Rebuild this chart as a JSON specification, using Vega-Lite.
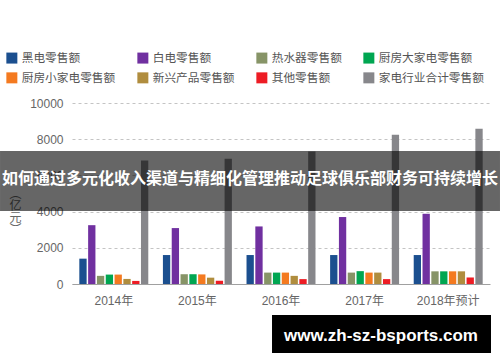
{
  "$schema": "https://vega.github.io/schema/vega-lite/v6.json",
  "width": 418,
  "height": 181,
  "autosize": {"type": "none"},
  "padding": {"left": 72, "top": 103, "right": 10, "bottom": 78},
  "background": "white",
  "config": {"view": {"stroke": null}, "font": "Noto Sans CJK SC"},
  "datasets": {
    "bars": [
      {"year": "2014年", "series": "黑电零售额", "value": 1400},
      {"year": "2014年", "series": "白电零售额", "value": 3250},
      {"year": "2014年", "series": "热水器零售额", "value": 450},
      {"year": "2014年", "series": "厨房大家电零售额", "value": 520},
      {"year": "2014年", "series": "厨房小家电零售额", "value": 520},
      {"year": "2014年", "series": "新兴产品零售额", "value": 280},
      {"year": "2014年", "series": "其他零售额", "value": 170},
      {"year": "2014年", "series": "家电行业合计零售额", "value": 6820},
      {"year": "2015年", "series": "黑电零售额", "value": 1600},
      {"year": "2015年", "series": "白电零售额", "value": 3090},
      {"year": "2015年", "series": "热水器零售额", "value": 540},
      {"year": "2015年", "series": "厨房大家电零售额", "value": 540},
      {"year": "2015年", "series": "厨房小家电零售额", "value": 530},
      {"year": "2015年", "series": "新兴产品零售额", "value": 350},
      {"year": "2015年", "series": "其他零售额", "value": 180},
      {"year": "2015年", "series": "家电行业合计零售额", "value": 6920},
      {"year": "2016年", "series": "黑电零售额", "value": 1600},
      {"year": "2016年", "series": "白电零售额", "value": 3180},
      {"year": "2016年", "series": "热水器零售额", "value": 630},
      {"year": "2016年", "series": "厨房大家电零售额", "value": 630},
      {"year": "2016年", "series": "厨房小家电零售额", "value": 630},
      {"year": "2016年", "series": "新兴产品零售额", "value": 450},
      {"year": "2016年", "series": "其他零售额", "value": 270},
      {"year": "2016年", "series": "家电行业合计零售额", "value": 7320},
      {"year": "2017年", "series": "黑电零售额", "value": 1600},
      {"year": "2017年", "series": "白电零售额", "value": 3700},
      {"year": "2017年", "series": "热水器零售额", "value": 630},
      {"year": "2017年", "series": "厨房大家电零售额", "value": 710},
      {"year": "2017年", "series": "厨房小家电零售额", "value": 630},
      {"year": "2017年", "series": "新兴产品零售额", "value": 630},
      {"year": "2017年", "series": "其他零售额", "value": 270},
      {"year": "2017年", "series": "家电行业合计零售额", "value": 8250},
      {"year": "2018年预计", "series": "黑电零售额", "value": 1600},
      {"year": "2018年预计", "series": "白电零售额", "value": 3880},
      {"year": "2018年预计", "series": "热水器零售额", "value": 700},
      {"year": "2018年预计", "series": "厨房大家电零售额", "value": 700},
      {"year": "2018年预计", "series": "厨房小家电零售额", "value": 700},
      {"year": "2018年预计", "series": "新兴产品零售额", "value": 700},
      {"year": "2018年预计", "series": "其他零售额", "value": 360},
      {"year": "2018年预计", "series": "家电行业合计零售额", "value": 8580}
    ],
    "band": [
      {"x0": -0.1722, "x1": 1.0239, "y0": 4033, "y1": 7348, "tx": 0.4258, "ty": 5801, "label": "如何通过多元化收入渠道与精细化管理推动足球俱乐部财务可持续增长"}
    ],
    "wm": [
      {"x0": 0.4785, "x1": 1.0024, "y0": -3812, "y1": -1713, "tx": 0.7392, "ty": -2873, "label": "www.zh-sz-bsports.com"}
    ]
  },
  "layer": [
    {
      "data": {"name": "bars"},
      "mark": {"type": "bar"},
      "encoding": {
        "x": {
          "field": "year", "type": "nominal", "sort": null,
          "scale": {"paddingInner": 0.175, "paddingOuter": 0.0875},
          "axis": {"title": null, "labelAngle": 0, "labelColor": "#666", "labelFontSize": 12, "labelPadding": 11, "ticks": false, "domainColor": "#a0a0a0", "domainWidth": 1, "grid": false, "labelFont": "Liberation Sans, Noto Sans CJK SC"}
        },
        "xOffset": {
          "field": "series", "type": "nominal",
          "sort": ["黑电零售额", "白电零售额", "热水器零售额", "厨房大家电零售额", "厨房小家电零售额", "新兴产品零售额", "其他零售额", "家电行业合计零售额"],
          "scale": {"paddingInner": 0.17, "paddingOuter": 0}
        },
        "y": {
          "field": "value", "type": "quantitative",
          "scale": {"domain": [0, 10000], "nice": false},
          "axis": {
            "title": ["︵", "亿", "元", "︶"], "titleAngle": 0, "titleX": -57, "titleY": 90,
            "titleAlign": "center", "titleBaseline": "middle", "titleFontWeight": "normal",
            "titleColor": "#666", "titleFontSize": 12, "titleLineHeight": 12,
            "values": [0, 2000, 4000, 6000, 8000, 10000], "format": "d",
            "domain": false, "ticks": false, "labelColor": "#666", "labelFontSize": 12, "labelPadding": 9,
            "labelFont": "Liberation Sans",
            "gridDash": [3, 3], "gridColor": "#c4c4c4", "gridWidth": 1
          }
        },
        "color": {
          "field": "series", "type": "nominal",
          "scale": {
            "domain": ["黑电零售额", "白电零售额", "热水器零售额", "厨房大家电零售额", "厨房小家电零售额", "新兴产品零售额", "其他零售额", "家电行业合计零售额"],
            "range": ["#1b4f8f", "#7030a0", "#879467", "#00a651", "#f47a20", "#b08d3e", "#ed1c24", "#87878b"]
          },
          "legend": {
            "title": null, "orient": "none", "legendX": -66, "legendY": -51,
            "direction": "horizontal", "columns": 4,
            "symbolType": "square", "symbolSize": 121, "symbolStrokeWidth": 0,
            "labelFontSize": 11.7, "labelColor": "#555", "labelOffset": 4,
            "columnPadding": 21, "rowPadding": 7, "labelFont": "Noto Sans CJK SC"
          }
        }
      }
    },
    {
      "layer": [
        {
          "data": {"name": "band"},
          "mark": {"type": "rect", "color": "#000000", "opacity": 0.6, "clip": false},
          "encoding": {
            "x": {"field": "x0", "type": "quantitative", "scale": {"domain": [0, 1], "nice": false, "zero": false}, "axis": null},
            "x2": {"field": "x1"},
            "y": {"field": "y0", "type": "quantitative", "scale": {"domain": [0, 10000], "nice": false}, "axis": null},
            "y2": {"field": "y1"}
          }
        },
        {
          "data": {"name": "band"},
          "mark": {"type": "text", "color": "#ffffff", "fontSize": 16, "fontWeight": "bold", "font": "Noto Sans CJK SC", "align": "center", "baseline": "middle"},
          "encoding": {
            "x": {"field": "tx", "type": "quantitative"},
            "y": {"field": "ty", "type": "quantitative"},
            "text": {"field": "label"}
          }
        },
        {
          "data": {"name": "wm"},
          "mark": {"type": "rect", "color": "#000000", "opacity": 1, "clip": false},
          "encoding": {
            "x": {"field": "x0", "type": "quantitative"},
            "x2": {"field": "x1"},
            "y": {"field": "y0", "type": "quantitative"},
            "y2": {"field": "y1"}
          }
        },
        {
          "data": {"name": "wm"},
          "mark": {"type": "text", "color": "#ffffff", "fontSize": 17, "fontWeight": "bold", "font": "Liberation Sans", "align": "center", "baseline": "middle"},
          "encoding": {
            "x": {"field": "tx", "type": "quantitative"},
            "y": {"field": "ty", "type": "quantitative"},
            "text": {"field": "label"}
          }
        }
      ]
    }
  ],
  "resolve": {"scale": {"x": "independent", "y": "independent"}, "axis": {"x": "independent", "y": "independent"}}
}
